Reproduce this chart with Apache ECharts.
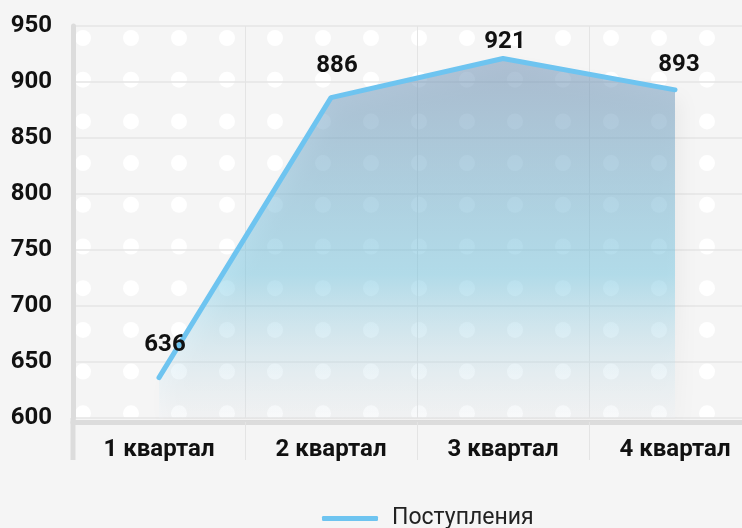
<!DOCTYPE html>
<html>
<head>
<meta charset="utf-8">
<script src="https://cdn.jsdelivr.net/npm/echarts@6/dist/echarts.min.js"></script>
<style>
  html, body { margin: 0; padding: 0; background: #f5f5f5; overflow: hidden; }
  /* plot runs past the right edge of the window, like the source */
  #chart { width: 770px; height: 528px; }
</style>
</head>
<body>
<div id="chart"></div>
<script>
// data
const quarters = ['1 квартал', '2 квартал', '3 квартал', '4 квартал'];
const receipts = [636, 886, 921, 893];
const seriesName = 'Поступления';
// per-point label nudges (style only)
const labelNudge = [[6, -33], [6, -32], [2, -16], [4, -25]];

const FONT = "Roboto, sans-serif";
const LINE_COLOR = '#6ec4f0';

// dotted backdrop for the plot area
function dotsCanvas () {
  const c = document.createElement('canvas');
  c.width = 770;
  c.height = 528;
  const ctx = c.getContext('2d');
  ctx.fillStyle = '#ffffff';
  for (let y = 38; y < 440; y += 41.7) {
    for (let x = 83; x < 770; x += 48) {
      ctx.beginPath();
      ctx.arc(x, y, 8, 0, Math.PI * 2);
      ctx.fill();
    }
  }
  return c;
}

const chart = echarts.init(document.getElementById('chart'));

const option = {
  backgroundColor: '#f5f5f5',
  animation: false,
  textStyle: { fontFamily: FONT },
  grid: {
    show: true,
    left: 73,
    right: 9,
    top: 26,
    bottom: 110,
    borderWidth: 0,
    backgroundColor: { image: dotsCanvas(), repeat: 'no-repeat' }
  },
  legend: {
    left: 317,
    top: 502,
    icon: 'roundRect',
    itemWidth: 56,
    itemHeight: 5,
    textStyle: {
      fontFamily: FONT,
      fontSize: 23,
      color: '#222',
      padding: [0, 0, 0, 9]
    },
    data: [seriesName]
  },
  xAxis: {
    type: 'category',
    data: quarters,
    boundaryGap: true,
    offset: 4,
    axisLine: { show: true, lineStyle: { color: '#dcdcdc', width: 5 } },
    axisTick: { show: true, length: 38, lineStyle: { color: '#e4e4e4', width: 1 } },
    splitLine: { show: true, lineStyle: { color: '#e4e4e4', width: 1 } },
    axisLabel: {
      margin: 16,
      fontFamily: FONT,
      fontSize: 24,
      fontWeight: 'bold',
      color: '#111'
    }
  },
  yAxis: {
    type: 'value',
    min: 600,
    max: 950,
    interval: 50,
    axisLine: { show: true, lineStyle: { color: '#dcdcdc', width: 5 } },
    axisTick: { show: false },
    splitLine: { show: true, lineStyle: { color: '#e4e4e4', width: 1.5 } },
    axisLabel: {
      margin: 21,
      fontFamily: FONT,
      fontSize: 24,
      fontWeight: 'bold',
      color: '#111'
    }
  },
  series: [{
    name: seriesName,
    type: 'line',
    data: receipts.map((v, i) => ({
      value: v,
      label: { offset: labelNudge[i] }
    })),
    symbol: 'circle',
    symbolSize: 1,
    itemStyle: { color: LINE_COLOR },
    lineStyle: { color: LINE_COLOR, width: 5, cap: 'round', join: 'round' },
    label: {
      show: true,
      position: 'inside',
      fontFamily: FONT,
      fontSize: 24,
      fontWeight: 'bold',
      color: '#111'
    },
    areaStyle: {
      color: new echarts.graphic.LinearGradient(0, 0, 0, 1, [
        { offset: 0, color: 'rgba(105,140,178,0.72)' },
        { offset: 0.6, color: 'rgba(110,200,230,0.66)' },
        { offset: 1, color: 'rgba(235,242,248,0.25)' }
      ]),
      shadowColor: 'rgba(0,0,0,0.09)',
      shadowBlur: 18,
      shadowOffsetX: 6,
      shadowOffsetY: 10
    }
  }]
};

chart.setOption(option);

// y-axis line continues below the x axis, as in the source
const p = chart.convertToPixel({ gridIndex: 0 }, [quarters[0], 600]);
const axisX = 73;
chart.setOption({
  graphic: [{
    type: 'rect',
    shape: { x: axisX - 2.5, y: p[1], width: 5, height: 42 },
    style: { fill: '#dcdcdc' },
    z: 1
  }]
});
</script>
</body>
</html>
